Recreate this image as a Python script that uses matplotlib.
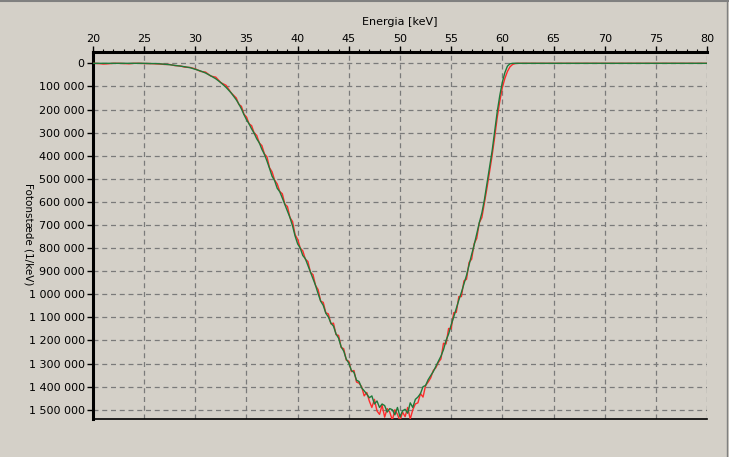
import matplotlib
matplotlib.use("Agg")
import matplotlib.pyplot as plt
from matplotlib.ticker import MultipleLocator, FuncFormatter
from matplotlib.lines import Line2D

# ---------------- data (counts per keV, in thousands) ----------------
energy_green = [20, 20.5, 21, 21.5, 22, 22.5, 23, 23.5, 24, 24.5, 25, 25.5, 26, 26.5, 27, 27.5,
                28, 28.5, 29, 29.5, 30, 30.5, 31, 31.5, 32, 32.5, 33, 33.5,
                34, 34.25, 34.5, 34.75, 35, 35.25, 35.5, 35.75, 36, 36.25, 36.5, 36.75,
                37, 37.25, 37.5, 37.75, 38, 38.25, 38.5, 38.75, 39, 39.25, 39.5, 39.75,
                40, 40.25, 40.5, 40.75, 41, 41.25, 41.5, 41.75, 42, 42.25, 42.5, 42.75,
                43, 43.25, 43.5, 43.75, 44, 44.25, 44.5, 44.75, 45, 45.25, 45.5, 45.75,
                46, 46.25, 46.5, 46.75, 47, 47.25, 47.5, 47.75, 48, 48.25, 48.5, 48.75,
                49, 49.25, 49.5, 49.75, 50, 50.25, 50.5, 50.75, 51, 51.25, 51.5, 51.75,
                52, 52.25, 52.5, 52.75, 53, 53.25, 53.5, 53.75, 54, 54.25, 54.5, 54.75,
                55, 55.25, 55.5, 55.75, 56, 56.25, 56.5, 56.75, 57, 57.25, 57.5, 57.75,
                58, 58.25, 58.5, 58.75, 59, 59.25, 59.5, 59.75, 60, 60.25, 60.5, 60.75,
                61, 61.5, 80]
green_k = [0, 0, 0, 0, 0, 0, 0, 0, 0, 0, 0, 1, 1, 2, 4, 6,
           9, 12, 15, 19, 26, 33, 42, 54, 67, 84, 104, 128,
           158, 176, 197, 222, 244, 262, 284, 303, 327, 344, 372, 394,
           423, 455, 489, 508, 541, 556, 583, 612, 640, 668, 704, 748,
           782, 800, 832, 846, 875, 905, 934, 962, 998, 1030, 1048, 1082,
           1098, 1125, 1138, 1172, 1190, 1228, 1246, 1281, 1298, 1330, 1338, 1372,
           1378, 1405, 1418, 1432, 1448, 1440, 1475, 1462, 1490, 1475, 1482, 1510,
           1495, 1500, 1522, 1490, 1530, 1505, 1498, 1515, 1470, 1490, 1455, 1445,
           1430, 1400, 1395, 1370, 1352, 1335, 1312, 1290, 1268, 1240, 1200, 1172,
           1132, 1098, 1062, 1025, 992, 955, 918, 872, 828, 786, 738, 690,
           648, 590, 520, 450, 380, 295, 210, 140, 82, 40, 12, 2,
           0, 0, 0]

energy_red = [20, 20.5, 21, 21.5, 22, 22.5, 23, 23.5, 24, 24.5, 25, 25.5, 26, 26.5, 27, 27.5,
              28, 28.5, 29, 29.5, 30, 30.5, 31, 31.5, 32, 32.5, 33, 33.5,
              34, 34.25, 34.5, 34.75, 35, 35.25, 35.5, 35.75, 36, 36.25, 36.5, 36.75,
              37, 37.25, 37.5, 37.75, 38, 38.25, 38.5, 38.75, 39, 39.25, 39.5, 39.75,
              40, 40.25, 40.5, 40.75, 41, 41.25, 41.5, 41.75, 42, 42.25, 42.5, 42.75,
              43, 43.25, 43.5, 43.75, 44, 44.25, 44.5, 44.75, 45, 45.25, 45.5, 45.75,
              46, 46.25, 46.5, 46.75, 47, 47.25, 47.5, 47.75, 48, 48.25, 48.5, 48.75,
              49, 49.25, 49.5, 49.75, 50, 50.25, 50.5, 50.75, 51, 51.25, 51.5, 51.75,
              52, 52.25, 52.5, 52.75, 53, 53.25, 53.5, 53.75, 54, 54.25, 54.5, 54.75,
              55, 55.25, 55.5, 55.75, 56, 56.25, 56.5, 56.75, 57, 57.25, 57.5, 57.75,
              58, 58.25, 58.5, 58.75, 59, 59.25, 59.5, 59.75, 60, 60.25, 60.5, 60.75,
              61, 61.25, 61.5, 80]
red_k = [0, 1, 3, 2, 0, 0, 1, 2, 0, 0, 1, 1, 2, 3, 5, 5,
         10, 11, 17, 18, 24, 35, 38, 55, 60, 84, 95, 128,
         150, 178, 186, 220, 232, 262, 270, 302, 312, 345, 356, 392,
         405, 452, 470, 506, 522, 555, 565, 610, 620, 668, 685, 742,
         762, 800, 812, 848, 858, 905, 915, 962, 980, 1030, 1035, 1080,
         1085, 1128, 1125, 1175, 1178, 1230, 1236, 1285, 1290, 1335, 1330, 1380,
         1385, 1400, 1440, 1425, 1462, 1490, 1455, 1505, 1520, 1480, 1532, 1495,
         1510, 1545, 1500, 1520, 1548, 1510, 1530, 1490, 1540, 1500, 1475, 1470,
         1430, 1445, 1395, 1380, 1362, 1330, 1318, 1295, 1280, 1212, 1215, 1148,
         1150, 1080, 1078, 1010, 1010, 942, 935, 862, 848, 780, 758, 690,
         668, 605, 540, 470, 400, 320, 235, 165, 105, 65, 35, 15,
         5, 1, 0, 0]

x_ticks = [20, 25, 30, 35, 40, 45, 50, 55, 60, 65, 70, 75, 80]
y_ticks = [0, 100000, 200000, 300000, 400000, 500000, 600000, 700000, 800000,
           900000, 1000000, 1100000, 1200000, 1300000, 1400000, 1500000]

x_label = "Energia [keV]"
y_label = "Fotonstæde (1/keV)"

# ---------------- figure ----------------
BG = "#D4D0C8"
fig = plt.figure(figsize=(7.29, 4.57), dpi=100, facecolor=BG)
ax = fig.add_axes([93 / 729, 1 - 419 / 457, (707 - 93) / 729, (419 - 52) / 457])
ax.set_facecolor(BG)

ax.plot(energy_red, [v * 1000 for v in red_k], color="#FF2A2A", lw=1.0, zorder=3)
ax.plot(energy_green, [v * 1000 for v in green_k], color="#1F7A3A", lw=1.0, zorder=4)

ax.set_xlim(20, 80)
ax.set_ylim(1540000, -49000)

ax.xaxis.tick_top()
ax.xaxis.set_label_position("top")
ax.set_xticks(x_ticks)
ax.xaxis.set_minor_locator(MultipleLocator(1))
ax.set_yticks(y_ticks)
ax.yaxis.set_major_formatter(FuncFormatter(lambda v, p: f"{int(round(v)):,}".replace(",", " ")))

ax.tick_params(axis="both", which="major", labelsize=8, length=4, width=1, color="black", pad=2)
ax.tick_params(axis="x", which="minor", length=2, width=0.8, color="black", top=True)

ax.grid(True, which="major", color="#7A7A7A", linestyle=(0, (4, 3)), linewidth=0.9)

for side in ["top", "left"]:
    ax.spines[side].set_linewidth(2.2)
    ax.spines[side].set_color("black")
ax.spines["bottom"].set_linewidth(1.2)
ax.spines["bottom"].set_color("black")
ax.spines["right"].set_visible(False)

ax.set_xlabel(x_label, fontsize=8, labelpad=6)
fig.text(28 / 729, 1 - 234 / 457, y_label, rotation=270, fontsize=7.5, ha="center", va="center")

# window border
fig.add_artist(Line2D([0, 1], [1 - 0.5 / 457, 1 - 0.5 / 457], color="#808080", lw=1.5, transform=fig.transFigure))
fig.add_artist(Line2D([1 - 2 / 729, 1 - 2 / 729], [0, 1], color="#808080", lw=1.0, transform=fig.transFigure))

fig.savefig("out.png", dpi=100, facecolor=BG)
